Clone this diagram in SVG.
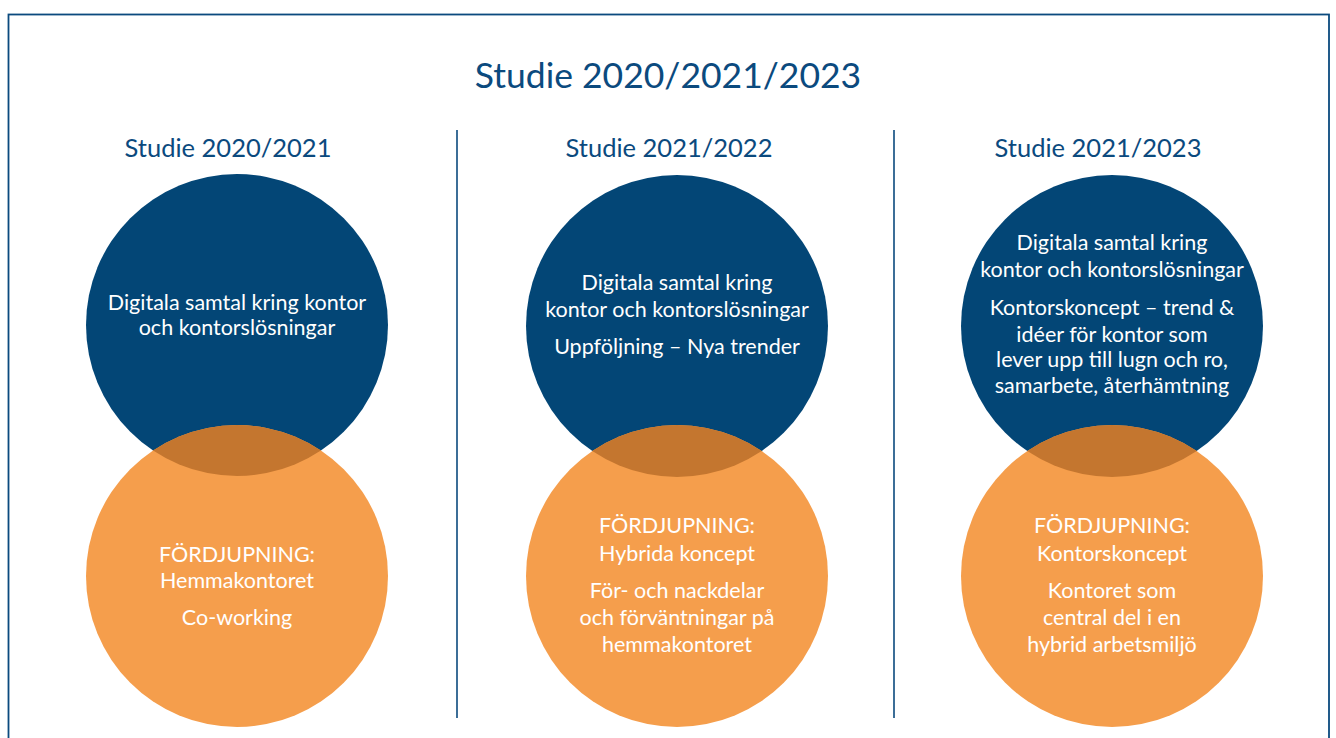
<svg xmlns="http://www.w3.org/2000/svg" width="1336" height="738" viewBox="0 0 1336 738">
<style>
.title{font-family:Lato,"Open Sans",sans-serif;fill:#0b4a7e;text-anchor:middle}
.t{font-family:Lato,"Open Sans",sans-serif;fill:#ffffff;font-size:21.5px;text-anchor:middle}
.blue{fill:#034676}
.orange{fill:#f59e4c}
.lap{fill:#c4762f}
.div{stroke:#0b4a7e;stroke-width:1.6}
</style>
<defs>
<clipPath id="c1"><circle cx="237" cy="576" r="151"/></clipPath>
<clipPath id="c2"><circle cx="677" cy="576" r="151"/></clipPath>
<clipPath id="c3"><circle cx="1112" cy="576" r="151"/></clipPath>
</defs>
<rect x="0" y="0" width="1336" height="738" fill="#ffffff"/>
<rect x="8.5" y="14.5" width="1320.5" height="740" fill="none" stroke="#0b4a7e" stroke-width="1.8"/>
<text class="title" x="668" y="88" font-size="35.5">Studie 2020/2021/2023</text>
<g id="dividers">
<line class="div" x1="457" y1="130" x2="457" y2="718"/>
<line class="div" x1="894" y1="130" x2="894" y2="718"/>
</g>
<g id="col1">
<text class="title" x="228" y="157" font-size="25.5">Studie 2020/2021</text>
<g id="col1-top">
<circle class="blue" cx="237" cy="325" r="151"/>
<text class="t" x="237" y="310">Digitala samtal kring kontor</text>
<text class="t" x="237" y="335">och kontorslösningar</text>
</g>
<g id="col1-bottom">
<circle class="orange" cx="237" cy="576" r="151"/>
<circle class="lap" cx="237" cy="325" r="151" clip-path="url(#c1)"/>
<text class="t" x="237" y="562">FÖRDJUPNING:</text>
<text class="t" x="237" y="588">Hemmakontoret</text>
<text class="t" x="237" y="625">Co-working</text>
</g>
</g>
<g id="col2">
<text class="title" x="669" y="157" font-size="25.5">Studie 2021/2022</text>
<g id="col2-top">
<circle class="blue" cx="677" cy="326" r="151"/>
<text class="t" x="677" y="290">Digitala samtal kring</text>
<text class="t" x="677" y="317">kontor och kontorslösningar</text>
<text class="t" x="677" y="354">Uppföljning – Nya trender</text>
</g>
<g id="col2-bottom">
<circle class="orange" cx="677" cy="576" r="151"/>
<circle class="lap" cx="677" cy="326" r="151" clip-path="url(#c2)"/>
<text class="t" x="677" y="533">FÖRDJUPNING:</text>
<text class="t" x="677" y="561">Hybrida koncept</text>
<text class="t" x="677" y="598">För- och nackdelar</text>
<text class="t" x="677" y="625">och förväntningar på</text>
<text class="t" x="677" y="652">hemmakontoret</text>
</g>
</g>
<g id="col3">
<text class="title" x="1098" y="157" font-size="25.5">Studie 2021/2023</text>
<g id="col3-top">
<circle class="blue" cx="1112" cy="326" r="151"/>
<text class="t" x="1112" y="250">Digitala samtal kring</text>
<text class="t" x="1112" y="277">kontor och kontorslösningar</text>
<text class="t" x="1112" y="315">Kontorskoncept – trend &amp;</text>
<text class="t" x="1112" y="342">idéer för kontor som</text>
<text class="t" x="1112" y="367">lever upp till lugn och ro,</text>
<text class="t" x="1112" y="393">samarbete, återhämtning</text>
</g>
<g id="col3-bottom">
<circle class="orange" cx="1112" cy="576" r="151"/>
<circle class="lap" cx="1112" cy="326" r="151" clip-path="url(#c3)"/>
<text class="t" x="1112" y="533">FÖRDJUPNING:</text>
<text class="t" x="1112" y="561">Kontorskoncept</text>
<text class="t" x="1112" y="598">Kontoret som</text>
<text class="t" x="1112" y="625">central del i en</text>
<text class="t" x="1112" y="652">hybrid arbetsmiljö</text>
</g>
</g>
</svg>
